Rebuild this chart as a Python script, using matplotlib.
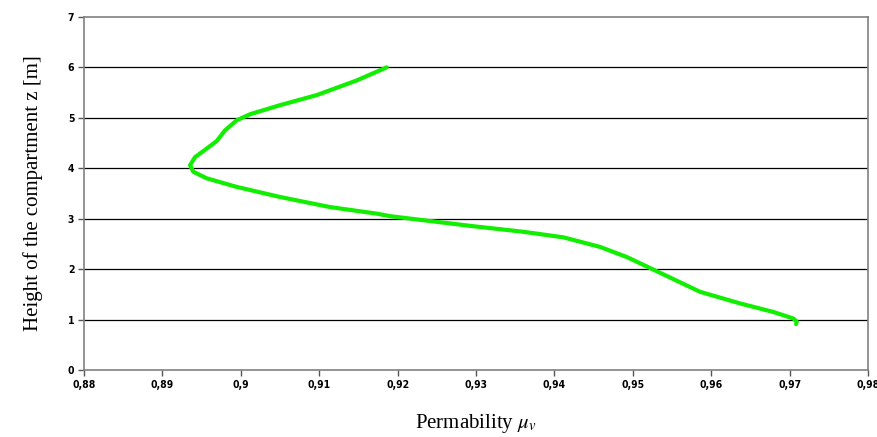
import matplotlib
matplotlib.use("Agg")
import matplotlib.pyplot as plt
from matplotlib.ticker import FuncFormatter

# permeability vs. height
mu_v = [0.97082, 0.97090, 0.97048, 0.96793, 0.96367, 0.95857, 0.95262, 0.94922,
        0.94582, 0.94114, 0.93604, 0.92966, 0.92328, 0.91903, 0.91733, 0.91138,
        0.90500, 0.89947, 0.89565, 0.89394, 0.89352, 0.89416, 0.89565, 0.89693,
        0.89798, 0.89947, 0.90117, 0.90500, 0.90968, 0.91478, 0.91861]
height = [0.91, 0.96, 1.02, 1.15, 1.32, 1.55, 1.99, 2.24,
          2.44, 2.63, 2.74, 2.85, 2.97, 3.05, 3.10, 3.23,
          3.43, 3.63, 3.80, 3.93, 4.06, 4.22, 4.39, 4.54,
          4.75, 4.95, 5.07, 5.25, 5.45, 5.74, 6.00]

x_ticks = [0.88, 0.89, 0.90, 0.91, 0.92, 0.93, 0.94, 0.95, 0.96, 0.97, 0.98]
y_ticks = [0, 1, 2, 3, 4, 5, 6, 7]

plt.rcParams['mathtext.fontset'] = 'stix'

fig = plt.figure(figsize=(8.78, 4.37), dpi=100)
ax = fig.add_axes([0.0957, 0.1533, 0.893, 0.808])

for y in y_ticks[1:-1]:
    ax.axhline(y, color='black', lw=0.9, zorder=1)

ax.plot(mu_v, height, color='#11ee00', lw=3, solid_capstyle='round',
        solid_joinstyle='round', zorder=3)

ax.set_xlim(0.88, 0.98)
ax.set_ylim(0, 7)
ax.set_xticks(x_ticks)
ax.set_yticks(y_ticks)

def comma(v, pos):
    s = ('%.2f' % v).rstrip('0')
    return s.replace('.', ',')

ax.xaxis.set_major_formatter(FuncFormatter(comma))

for lab in ax.get_xticklabels() + ax.get_yticklabels():
    lab.set_family('DejaVu Sans')
    lab.set_stretch('condensed')
    lab.set_fontweight('bold')
    lab.set_fontsize(7.5)

ax.tick_params(axis='both', direction='out', length=4, width=1, color='#555555', pad=3)
for s in ax.spines.values():
    s.set_color('#808080')
    s.set_linewidth(1.2)

ax.set_xlabel(r'Permability $\mu_v$', family='Liberation Serif', fontsize=15, labelpad=16)
ax.set_ylabel('Height of the compartment z [m]', family='Liberation Serif', fontsize=15, labelpad=18)

fig.savefig('out.png', dpi=100)
